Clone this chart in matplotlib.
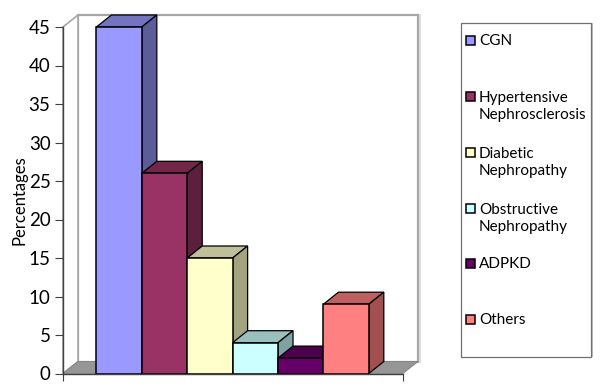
import matplotlib
matplotlib.use("Agg")
import matplotlib.pyplot as plt
from matplotlib.patches import Polygon, Rectangle

plt.rcParams['font.family'] = ['Lato', 'DejaVu Sans']

categories = ["CGN", "Hypertensive\nNephrosclerosis", "Diabetic\nNephropathy",
              "Obstructive\nNephropathy", "ADPKD", "Others"]
values = [45, 26, 15, 4, 2, 9]
colors = ["#9999FF", "#993366", "#FFFFCC", "#CCFFFF", "#660066", "#FF8080"]
top_colors = ["#7373BF", "#732648", "#BFBF99", "#99BFBF", "#4D004D", "#BF6060"]
side_colors = ["#5C5C99", "#5C1F3D", "#A3A37F", "#7FA3A3", "#3D003D", "#A34F4F"]
yticks = [0, 5, 10, 15, 20, 25, 30, 35, 40, 45]

W, H = 600, 389
fig = plt.figure(figsize=(W / 100, H / 100), dpi=100)

ax = fig.add_axes([63 / W, 1 - 373.5 / H, 340 / W, 346.5 / H])
x_left, x_right = -0.736, 6.753
ax.set_xlim(x_left, x_right)
ax.set_ylim(0, 45)
ddx = 15 / 45.4
ddy = 12 / 7.7
wall = "#A6A6A6"

ax.add_patch(Polygon([(x_left + ddx, ddy), (x_left + ddx, 45 + ddy), (x_right + ddx, 45 + ddy),
                      (x_right + ddx, ddy)], closed=True, fc="white", ec=wall, lw=1.6,
                     clip_on=False, zorder=1))
ax.add_patch(Polygon([(x_left, 0), (x_left + ddx, ddy), (x_left + ddx, 45 + ddy), (x_left, 45)],
                     closed=True, fc="white", ec=wall, lw=1.2, clip_on=False, zorder=1))
ax.add_patch(Polygon([(x_left, 0), (x_left + ddx, ddy), (x_right + ddx, ddy), (x_right, 0)],
                     closed=True, fc="#969696", ec="#808080", lw=0.6, clip_on=False, zorder=2))
ax.plot([x_right + ddx + 0.035] * 2, [ddy, 45 + ddy], color="#DDDDDD", lw=1.5, clip_on=False, zorder=1)

for i, v in enumerate(values):
    z = 3 + i
    ax.add_patch(Polygon([(i, v), (i + ddx, v + ddy), (i + 1 + ddx, v + ddy), (i + 1, v)],
                         closed=True, fc=top_colors[i], ec="black", lw=0.9, clip_on=False, zorder=z))
    ax.add_patch(Polygon([(i + 1, 0), (i + 1 + ddx, ddy), (i + 1 + ddx, v + ddy), (i + 1, v)],
                         closed=True, fc=side_colors[i], ec="black", lw=0.9, clip_on=False, zorder=z))
    ax.bar(i, v, width=1, align="edge", color=colors[i], edgecolor="black", lw=1.1,
           clip_on=False, zorder=z + 0.5)

for s in ["top", "right"]:
    ax.spines[s].set_visible(False)
for s in ["left", "bottom"]:
    ax.spines[s].set_color("#404040")
    ax.spines[s].set_linewidth(1.0)
    ax.spines[s].set_zorder(20)
ax.set_yticks(yticks)
ax.set_xticks([x_left, x_right])
ax.set_xticklabels([])
ax.tick_params(axis="y", labelsize=13.5, length=6, width=0.8, color="#404040", pad=3, labelcolor="black")
ax.tick_params(axis="x", length=5, width=0.8, color="#404040")
ax.set_ylabel("Percentages", fontsize=12, labelpad=0.5)

lg = fig.add_axes([0, 0, 1, 1], facecolor="none")
lg.set_xlim(0, W)
lg.set_ylim(H, 0)
lg.axis("off")
lg.add_patch(Rectangle((591, 23), 1.5, 334, fc="#C0C0C0", ec="none"))
lg.add_patch(Rectangle((460.5, 22.5), 130.5, 334, fc="white", ec="#707070", lw=0.9))
ys = [40, 106, 162, 218, 263, 319]
for name, c, y in zip(categories, colors, ys):
    n = name.count("\n")
    my = y - 10 if n else y
    lg.add_patch(Rectangle((466, my - 4), 9, 9, fc=c, ec="black", lw=1.1))
    lg.text(479, y + 0.5, name, fontsize=11, va="center", ha="left", linespacing=1.32, color="black")

fig.savefig("out.png", dpi=100)
